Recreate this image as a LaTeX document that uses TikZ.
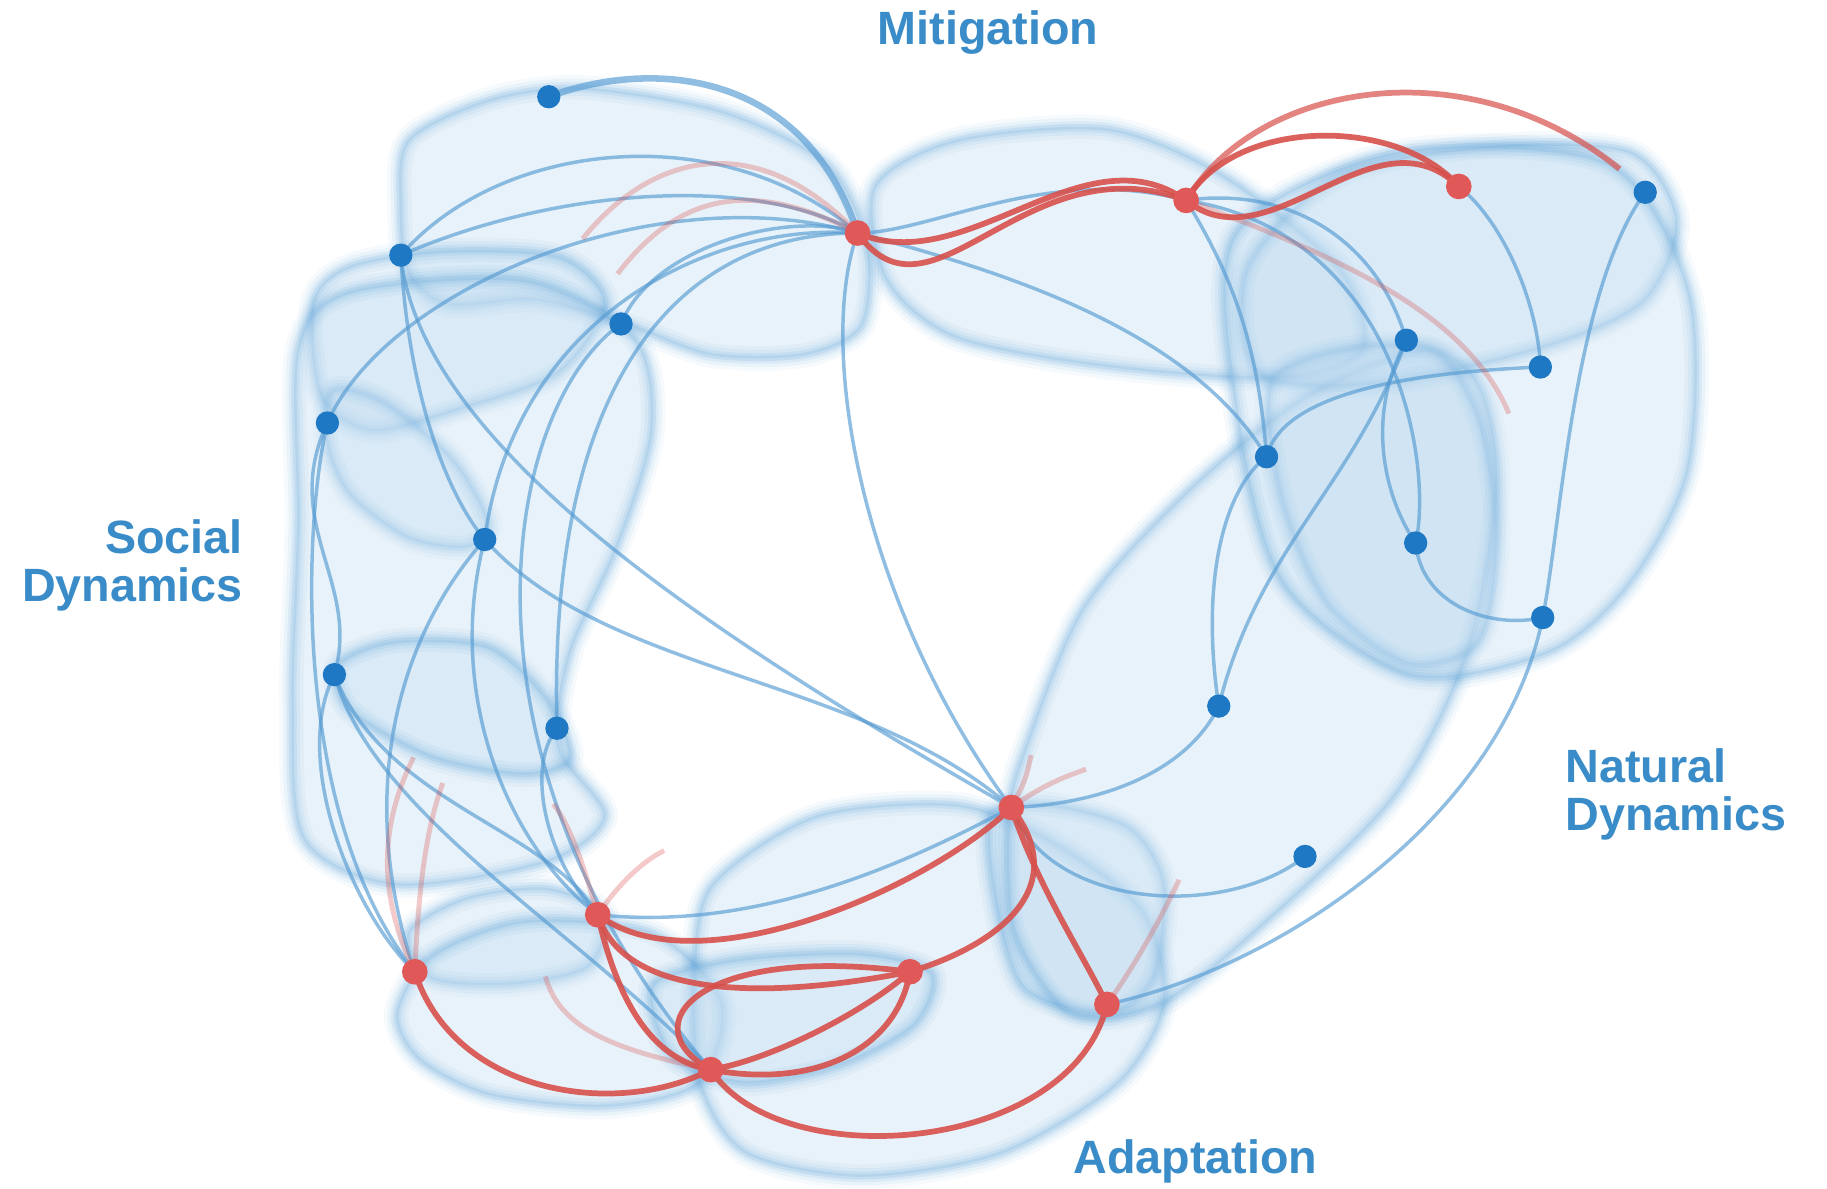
\documentclass[tikz,border=0pt]{standalone}
\usepackage{fontspec}
\setmainfont{Liberation Sans}
\usepackage{tikz}

\definecolor{hullfill}{RGB}{190,218,240}
\definecolor{hullline}{RGB}{70,150,210}
\definecolor{linkblue}{RGB}{85,155,210}
\definecolor{dotblue}{RGB}{30,120,195}
\definecolor{linkred}{RGB}{215,80,75}
\definecolor{dotred}{RGB}{225,88,88}
\definecolor{labelblue}{RGB}{58,140,200}

% one soft hyperedge: pale fill with a blurred rim
\newcommand{\hull}[1]{%
  \fill[hullfill,opacity=.35] plot[smooth cycle] coordinates {#1};
  \draw[hullline,opacity=.05,line width=6pt] plot[smooth cycle] coordinates {#1};
  \draw[hullline,opacity=.07,line width=4.2pt] plot[smooth cycle] coordinates {#1};
  \draw[hullline,opacity=.1,line width=2.6pt] plot[smooth cycle] coordinates {#1};
  \draw[hullline,opacity=.14,line width=1.3pt] plot[smooth cycle] coordinates {#1};
}

\begin{document}
\begin{tikzpicture}[x=0.01cm,y=-0.01cm,
    bnode/.style={circle,fill=dotblue,inner sep=0pt,minimum size=0.2cm},
    rnode/.style={circle,fill=dotred,inner sep=0pt,minimum size=0.22cm},
    bedge/.style={linkblue,opacity=.65,line width=0.85pt},
    redge/.style={linkred,opacity=.9,line width=1.4pt},
    rfade/.style={linkred,opacity=.3,line width=1.2pt},
    region/.style={text=labelblue,inner sep=0pt,font=\bfseries\fontsize{11.4}{11.8}\selectfont}]
  \useasboundingbox (0,0) rectangle (1568,1020);

  % hyperedges, left side
  \hull{(350,120) (420,85) (500,75) (620,95) (710,140) (745,210) (740,280) (690,305) (610,305) (540,280) (460,258) (385,262) (350,235) (343,180)}
  \hull{(268,260) (300,228) (380,215) (480,220) (520,260) (480,320) (400,350) (320,370) (275,340)}
  \hull{(285,335) (330,345) (390,395) (420,450) (400,470) (350,462) (300,425) (280,380)}
  \hull{(255,300) (300,250) (450,240) (545,290) (560,370) (530,470) (490,560) (480,640) (520,700) (470,740) (340,760) (260,720) (250,600) (255,450)}
  \hull{(290,570) (340,550) (420,555) (470,600) (490,650) (450,665) (370,650) (300,610)}
  % hyperedges, bottom
  \hull{(350,800) (400,770) (470,762) (520,785) (505,830) (440,845) (370,840)}
  \hull{(340,870) (370,820) (450,790) (560,800) (620,860) (600,930) (520,950) (420,940) (360,910)}
  \hull{(610,760) (700,700) (820,690) (900,720) (980,780) (1000,860) (960,930) (860,990) (740,1010) (640,990) (600,930) (595,840)}
  \hull{(565,840) (640,822) (740,818) (800,835) (785,880) (720,915) (640,930) (580,910) (560,870)}
  \hull{(850,700) (900,690) (970,710) (1000,760) (990,840) (950,870) (880,850) (855,780)}
  % hyperedges, right side
  \hull{(880,640) (930,520) (1020,420) (1120,340) (1220,300) (1270,330) (1285,420) (1260,560) (1200,680) (1100,780) (1000,860) (920,870) (870,800) (865,700)}
  \hull{(750,160) (820,120) (950,110) (1050,150) (1150,230) (1170,300) (1100,325) (950,315) (820,290) (760,240)}
  \hull{(1070,230) (1150,150) (1280,125) (1400,130) (1440,190) (1410,260) (1320,300) (1180,330) (1080,320)}
  \hull{(1090,330) (1150,300) (1230,300) (1270,360) (1285,460) (1270,550) (1210,570) (1140,520) (1100,430)}
  \hull{(1060,200) (1200,130) (1380,140) (1450,250) (1450,400) (1400,500) (1330,560) (1210,580) (1100,500) (1060,350)}

  % vertices
  \foreach \n/\x/\y in {b1/471/83, b2/344/219, b3/533/278, b4/281/363, b5/416/463,
      b6/287/579, b7/478/625, b8/1412/165, b9/1207/292, b10/1322/315, b11/1087/392,
      b12/1215/466, b13/1324/530, b14/1046/606, b15/1120/735}
    \coordinate (\n) at (\x,\y);
  \foreach \n/\x/\y in {r1/736/200, r2/1018/172, r3/1252/160, r4/868/693, r5/513/785,
      r6/356/834, r7/781/834, r8/610/918, r9/950/862}
    \coordinate (\n) at (\x,\y);

  % blue links
  \draw[bedge,line width=1.6pt] (b1) .. controls (560,50) and (690,60) .. (r1);
  \draw[bedge] (b2) .. controls (430,120) and (620,100) .. (r1);
  \draw[bedge] (b2) .. controls (480,160) and (650,150) .. (r1);
  \draw[bedge] (b4) .. controls (330,250) and (560,150) .. (r1);
  \draw[bedge] (b3) .. controls (560,210) and (680,180) .. (r1);
  \draw[bedge] (r1) .. controls (600,190) and (440,280) .. (b5);
  \draw[bedge] (r1) .. controls (580,200) and (470,330) .. (b7);
  \draw[bedge] (r1) .. controls (700,300) and (740,520) .. (r4);
  \draw[bedge] (b2) .. controls (360,380) and (600,540) .. (r4);
  \draw[bedge] (b5) .. controls (520,580) and (740,580) .. (r4);
  \draw[bedge] (b2) .. controls (350,330) and (380,420) .. (b5);
  \draw[bedge] (b3) .. controls (430,350) and (380,650) .. (r8);
  \draw[bedge] (b4) .. controls (240,450) and (310,500) .. (b6);
  \draw[bedge] (b4) .. controls (260,450) and (250,700) .. (r6);
  \draw[bedge] (b5) .. controls (330,560) and (310,700) .. (r6);
  \draw[bedge] (b5) .. controls (380,600) and (440,730) .. (r5);
  \draw[bedge] (b6) .. controls (250,650) and (300,780) .. (r6);
  \draw[bedge] (b6) .. controls (320,700) and (500,800) .. (r8);
  \draw[bedge] (b6) .. controls (330,690) and (470,710) .. (r5);
  \draw[bedge] (b7) .. controls (450,660) and (470,740) .. (r5);
  \draw[bedge] (r5) .. controls (650,800) and (780,740) .. (r4);
  \draw[bedge] (r1) .. controls (800,200) and (900,140) .. (r2);
  \draw[bedge] (r1) .. controls (850,230) and (1020,280) .. (b11);
  \draw[bedge] (r2) .. controls (1060,240) and (1080,300) .. (b11);
  \draw[bedge] (r2) .. controls (1100,160) and (1180,200) .. (b9);
  \draw[bedge] (r2) .. controls (1200,200) and (1230,400) .. (b12);
  \draw[bedge] (r3) .. controls (1290,190) and (1320,260) .. (b10);
  \draw[bedge] (b8) .. controls (1350,250) and (1340,450) .. (b13);
  \draw[bedge] (b9) .. controls (1170,360) and (1190,430) .. (b12);
  \draw[bedge] (b9) .. controls (1160,420) and (1080,470) .. (b14);
  \draw[bedge] (b10) .. controls (1200,320) and (1100,340) .. (b11);
  \draw[bedge] (b12) .. controls (1220,520) and (1280,540) .. (b13);
  \draw[bedge] (b13) .. controls (1290,700) and (1100,830) .. (r9);
  \draw[bedge] (b14) .. controls (1030,500) and (1050,420) .. (b11);
  \draw[bedge] (r4) .. controls (950,690) and (1020,660) .. (b14);
  \draw[bedge] (r4) .. controls (900,780) and (1050,790) .. (b15);

  % red links
  \draw[redge] (r1) .. controls (800,290) and (880,120) .. (r2);
  \draw[redge] (r1) .. controls (830,240) and (930,110) .. (r2);
  \draw[redge] (r2) .. controls (1090,230) and (1180,90) .. (r3);
  \draw[redge] (r2) .. controls (1060,100) and (1200,100) .. (r3);
  \coordinate (f1) at (1390,145);
  \coordinate (f2) at (1295,355);
  \coordinate (f3) at (500,205);
  \coordinate (f4) at (530,235);
  \draw[redge,opacity=.7] (r2) .. controls (1080,70) and (1260,40) .. (f1);
  \draw[rfade] (r2) .. controls (1150,220) and (1260,270) .. (f2);
  \draw[rfade] (r1) .. controls (650,110) and (560,130) .. (f3);
  \draw[rfade] (r1) .. controls (640,150) and (580,170) .. (f4);
  \draw[redge] (r6) .. controls (390,940) and (530,960) .. (r8);
  \draw[redge] (r8) .. controls (670,1010) and (920,990) .. (r9);
  \draw[redge] (r5) .. controls (540,870) and (700,850) .. (r7);
  \draw[redge] (r5) .. controls (600,850) and (800,760) .. (r4);
  \draw[redge] (r5) .. controls (530,860) and (560,910) .. (r8);
  \draw[redge] (r8) .. controls (540,880) and (600,810) .. (r7);
  \draw[redge] (r7) .. controls (740,870) and (660,910) .. (r8);
  \draw[redge] (r7) .. controls (770,900) and (700,935) .. (r8);
  \draw[redge] (r7) .. controls (860,810) and (920,760) .. (r4);
  \draw[redge] (r4) .. controls (890,760) and (930,820) .. (r9);
  \coordinate (f5) at (355,650);
  \coordinate (f6) at (380,672);
  \coordinate (f7) at (475,690);
  \coordinate (f8) at (570,730);
  \coordinate (f9) at (885,648);
  \coordinate (f10) at (932,660);
  \coordinate (f11) at (1012,755);
  \coordinate (f12) at (468,838);
  \draw[rfade] (r6) .. controls (320,760) and (330,700) .. (f5);
  \draw[rfade] (r6) .. controls (360,740) and (370,700) .. (f6);
  \draw[rfade] (r5) .. controls (500,740) and (490,710) .. (f7);
  \draw[rfade] (r5) .. controls (530,760) and (550,740) .. (f8);
  \draw[rfade] (r4) .. controls (880,670) .. (f9);
  \draw[rfade] (r4) .. controls (900,670) and (920,665) .. (f10);
  \draw[rfade] (r9) .. controls (980,820) and (1000,780) .. (f11);
  \draw[rfade] (r8) .. controls (520,900) and (480,880) .. (f12);

  % dots on top
  \foreach \n in {b1,b2,b3,b4,b5,b6,b7,b8,b9,b10,b11,b12,b13,b14,b15}
    \node[bnode] at (\n) {};
  \foreach \n in {r1,r2,r3,r4,r5,r6,r7,r8,r9}
    \node[rnode] at (\n) {};

  % region names
  \node[region] (mitig) at (848,28) {Mitigation};
  \node[region,anchor=east,align=right] (social) at (209,485) {Social\\Dynamics};
  \node[region,anchor=west,align=left] (natural) at (1343,682) {Natural\\Dynamics};
  \node[region] (adapt) at (1026,997) {Adaptation};
\end{tikzpicture}
\end{document}
